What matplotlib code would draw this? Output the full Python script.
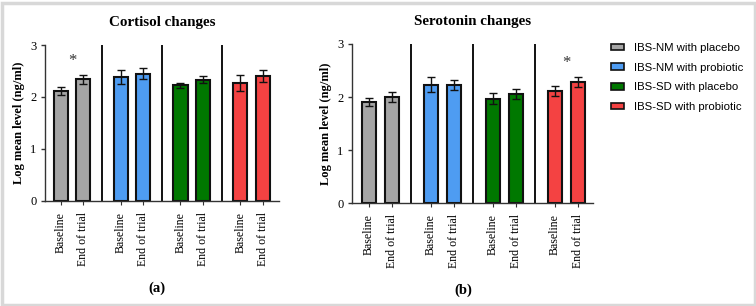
import numpy as np
import matplotlib
matplotlib.use("Agg")
import matplotlib.pyplot as plt
from matplotlib.patches import Patch, Rectangle

serif = "Liberation Serif"
sans = "Liberation Sans"

groups = ["IBS-NM with placebo", "IBS-NM with probiotic",
          "IBS-SD with placebo", "IBS-SD with probiotic"]
colors = ["#A5A5A5", "#4E9CF2", "#007800", "#F44242"]
timepoints = ["Baseline", "End of trial"]

cortisol_mean = [2.12, 2.34, 2.38, 2.45, 2.22, 2.33, 2.27, 2.40]
cortisol_err = [0.08, 0.09, 0.14, 0.10, 0.05, 0.07, 0.15, 0.11]
serotonin_mean = [1.91, 2.00, 2.23, 2.23, 1.97, 2.06, 2.12, 2.28]
serotonin_err = [0.08, 0.09, 0.14, 0.10, 0.10, 0.10, 0.09, 0.09]

W, H = 756, 306
fig = plt.figure(figsize=(W / 100, H / 100), dpi=100)


def px_axes(left, right, top, bottom):
    return fig.add_axes([left / W, 1 - bottom / H, (right - left) / W, (bottom - top) / H])


def panel(ax, means, errs, gap, xlim, title, star_group):
    xs = []
    for g in range(4):
        xs += [g * gap, g * gap + 1]
    xs = np.array(xs)
    bar_colors = [c for c in colors for _ in range(2)]
    ax.bar(xs, means, width=0.62, color=bar_colors, edgecolor="#111111", linewidth=1.5, zorder=2)
    ax.errorbar(xs, means, yerr=errs, fmt="none", ecolor="#111111", elinewidth=1.0,
                capsize=3.0, capthick=1.0, zorder=3)
    for g in range(1, 4):
        ax.axvline(g * gap - (gap - 1) / 2, ymin=0, ymax=1, color="#111111", linewidth=1.4)
    i = star_group * 2
    ax.text((xs[i] + xs[i + 1]) / 2, max(means[i:i + 2]) + 0.36, "*", ha="center", va="center",
            fontsize=12, family=serif, color="#333333")
    ax.set_xlim(*xlim)
    ax.set_ylim(0, 3)
    ax.set_yticks([0, 1, 2, 3])
    ax.set_xticks(xs)
    ax.set_xticklabels(timepoints * 4, rotation=90, family=serif, fontsize=8.6)
    for lab in ax.get_yticklabels():
        lab.set_family(serif)
        lab.set_fontsize(9)
    ax.tick_params(axis="y", length=3, width=1, pad=3, color="#333333")
    ax.tick_params(axis="x", length=3, width=0.8, pad=5, color="#333333")
    for s in ["top", "right"]:
        ax.spines[s].set_visible(False)
    for s in ["left", "bottom"]:
        ax.spines[s].set_color("#333333")
        ax.spines[s].set_linewidth(1.0)
    ax.set_ylabel("Log mean level (ng/ml)", family=serif, fontweight="bold", fontsize=9, labelpad=4)
    ax.set_title(title, family=serif, fontweight="bold", fontsize=10.8, pad=14)


ax1 = px_axes(45, 279, 45, 200.7)
panel(ax1, cortisol_mean, cortisol_err, 2.64, (-0.69, 9.62), "Cortisol changes", 0)
ax2 = px_axes(351.7, 593, 44, 203.3)
panel(ax2, serotonin_mean, serotonin_err, 2.73, (-0.76, 9.87), "Serotonin changes", 3)

fig.text(157 / W, 1 - 288 / H, "(a)", family=serif, fontweight="bold", fontsize=10.5,
         ha="center", va="center")
fig.text(463 / W, 1 - 290 / H, "(b)", family=serif, fontweight="bold", fontsize=10.5,
         ha="center", va="center")

handles = [Patch(facecolor=c, edgecolor="#111111", linewidth=1.2) for c in colors]
fig.legend(handles, groups, loc="upper left", bbox_to_anchor=(611 / W, 1 - 43 / H),
           frameon=False, prop={"family": sans, "size": 8.2}, handlelength=1.15,
           handleheight=0.55, handletextpad=0.9, labelspacing=0.85, borderpad=0,
           borderaxespad=0)

fig.patches.append(Rectangle((1.5 / W, 1.5 / H), 1 - 3 / W, 1 - 4.5 / H, transform=fig.transFigure,
                             fill=False, edgecolor="#D8D8D8", linewidth=2.5))

fig.savefig("out.png", dpi=100)
